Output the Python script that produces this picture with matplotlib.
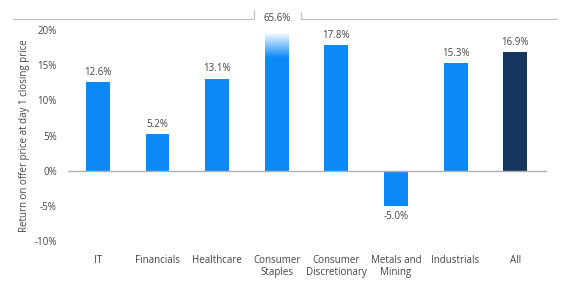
import matplotlib.pyplot as plt
import numpy as np
from matplotlib.colors import LinearSegmentedColormap
from matplotlib.lines import Line2D

plt.rcParams.update({"font.family": ["Open Sans", "DejaVu Sans"], "font.size": 7})

SECTORS = ["IT", "Financials", "Healthcare", "Consumer\nStaples", "Consumer\nDiscretionary",
           "Metals and\nMining", "Industrials", "All"]
RETURNS = [12.6, 5.2, 13.1, 65.6, 17.8, -5.0, 15.3, 16.9]
Y_TICKS = [-10, -5, 0, 5, 10, 15, 20]

BLUE = "#0A89F7"
NAVY = "#17365D"
GREY_TEXT = "#444444"
BREAK_AT = 19.6  # visible top of the clipped bar
FADE_FROM = 16.0

fig = plt.figure(figsize=(5.69, 2.88), dpi=100)
ax = fig.add_axes([0.1195, 0.163, 0.8415, 0.733])

x = np.arange(len(SECTORS))
width = 0.4
colors = [NAVY if s == "All" else BLUE for s in SECTORS]
shown = [FADE_FROM if v > BREAK_AT else v for v in RETURNS]
ax.bar(x, shown, width=width, color=colors, zorder=2)

# clipped bar: fade to white at the top
for i, v in enumerate(RETURNS):
    if v > BREAK_AT:
        cmap = LinearSegmentedColormap.from_list("fade", [BLUE, "white"])
        grad = np.linspace(0, 1, 100).reshape(-1, 1)
        ax.imshow(grad, cmap=cmap, aspect="auto", origin="lower",
                  extent=[x[i] - width / 2, x[i] + width / 2, FADE_FROM, BREAK_AT], zorder=2)
        ax.annotate(f"{v:.1f}%", (x[i], BREAK_AT), xytext=(0, 6), textcoords="offset points",
                    ha="center", va="bottom", color=GREY_TEXT, fontsize=7, annotation_clip=False)
    elif v >= 0:
        ax.annotate(f"{v:.1f}%", (x[i], v), xytext=(0, 3), textcoords="offset points",
                    ha="center", va="bottom", color=GREY_TEXT, fontsize=7)
    else:
        ax.annotate(f"{v:.1f}%", (x[i], v), xytext=(0, -4), textcoords="offset points",
                    ha="center", va="top", color=GREY_TEXT, fontsize=7)

ax.axhline(0, color="#b0b0b0", linewidth=1, zorder=3)
ax.set_xlim(-0.5, 7.53)
ax.set_ylim(-10, 20)
ax.set_yticks(Y_TICKS)
ax.set_yticklabels([f"{t}%" for t in Y_TICKS])
ax.set_xticks(x)
ax.set_xticklabels(SECTORS, linespacing=1.1)
ax.tick_params(length=0, colors=GREY_TEXT, labelsize=7)
ax.tick_params(axis="y", pad=8)
ax.tick_params(axis="x", pad=10, labelcolor=GREY_TEXT)
for sp in ax.spines.values():
    sp.set_visible(False)
ax.set_ylabel("Return on offer price at day 1 closing price", color=GREY_TEXT, fontsize=7)
ax.yaxis.set_label_coords(-0.079, 0.5)

# broken top border around the clipped bar
W, H = 569, 288
def px(xp, yp):
    return xp / W, 1 - yp / H
segs = [[(13, 19), (254, 19), (254, 10)], [(301, 12), (301, 19), (557, 19)]]
for seg in segs:
    pts = [px(*p) for p in seg]
    fig.add_artist(Line2D([p[0] for p in pts], [p[1] for p in pts], color="#bdbdbd", linewidth=0.8))

fig.savefig("out.png", dpi=100)
